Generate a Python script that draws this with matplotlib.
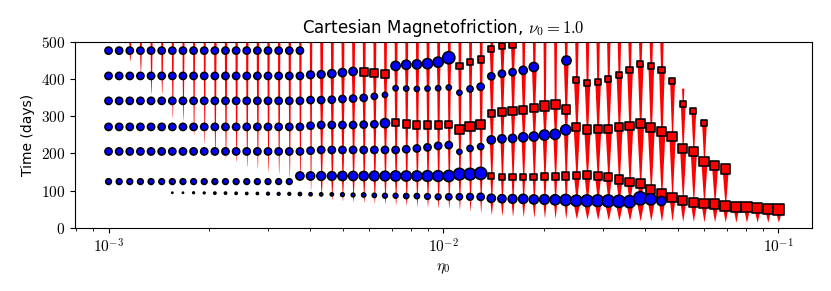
import numpy as np
import matplotlib
matplotlib.use("Agg")
import matplotlib.pyplot as plt
from matplotlib.ticker import FuncFormatter, LogLocator, NullFormatter

plt.rcParams['mathtext.fontset'] = 'cm'

# eta0 grid of the runs (64 log-spaced values, 1e-3 .. 1e-1)
eta0 = np.logspace(-3, -1, 64)

# eruption tracks: first run index, marker ('o' full eruption, 's' failed), times (days), marker size (px)
row1_i, row1_m = 0, 'o'
row1_t = [476, 476, 476, 476, 476, 476, 476, 476, 476, 476, 476, 476, 476, 476, 476, 476, 476, 476, 476]
row1_d = [8] * 19

row2a_i, row2a_m = 0, 'o'
row2a_t = [408, 408, 408, 408, 408, 408, 408, 408, 408, 408, 408, 408, 408, 408, 408, 408, 408, 408, 408,
           411, 412, 414, 417, 420]
row2a_d = [8] * 19 + [8.5, 8.5, 9, 9, 9]
row2b_i, row2b_m = 24, 's'
row2b_t = [418, 415, 413]
row2b_d = [9, 9, 9]
row2c_i, row2c_m = 27, 'o'
row2c_t = [435, 438, 439, 441, 445, 457]
row2c_d = [10, 10, 10, 11, 11, 13]
row2d_i, row2d_m = 33, 's'
row2d_t = [435, 445, 452, 480, 488, 491]
row2d_d = [7, 7, 7, 7, 7, 7]

row3a_i, row3a_m = 0, 'o'
row3a_t = [341, 341, 341, 341, 341, 341, 341, 341, 341, 341, 341, 341, 341, 341, 341, 341, 341, 341, 341,
           343, 343, 344, 346, 347, 349, 353, 357]
row3a_d = [8] * 25 + [7, 6]
row3b_i, row3b_m = 27, 'o'
row3b_t = [375, 374, 373, 374, 375, 377, 363, 373, 379, 407, 414, 418, 423, 432]
row3b_d = [6, 6, 6, 6, 6, 6, 6, 7, 8, 8, 8, 8, 9, 10]
row3c_i, row3c_m = 43, 'o'
row3c_t = [450]
row3c_d = [10]
row3d_i, row3d_m = 44, 's'
row3d_t = [397, 390, 392, 399, 410, 424, 440, 435, 424, 395, 332, 314, 281]
row3d_d = [7] * 13

row4a_i, row4a_m = 0, 'o'
row4a_t = [271, 271, 271, 271, 271, 271, 271, 271, 271, 271, 271, 271, 271, 271, 271, 271, 271, 271, 271,
           274, 276, 276, 276, 276, 277, 278, 281]
row4a_d = [8] * 26 + [10]
row4b_i, row4b_m = 27, 's'
row4b_t = [283, 279, 276, 276, 276, 278, 264, 271, 277, 307, 311, 314, 316, 322, 327, 332, 318]
row4b_d = [8, 8, 8, 8, 8, 8, 10, 10, 10, 8, 8, 9, 9, 9, 10, 10, 9]

row5a_i, row5a_m = 0, 'o'
row5a_t = [205, 205, 205, 205, 205, 205, 205, 205, 205, 205, 205, 205, 205, 205, 205, 205, 205, 205, 205,
           207, 209, 209, 209, 209, 209, 209, 209, 209, 211, 213, 216, 220, 222,
           204, 213, 218, 236, 239, 240, 243, 245, 249, 251, 263]
row5a_d = [8] * 33 + [6, 7, 7, 9, 9, 9, 10, 10, 11, 11, 11]
row5b_i, row5b_m = 44, 's'
row5b_t = [270, 264, 265, 266, 270, 273, 280, 269, 258, 245, 213, 204, 179, 168, 158]
row5b_d = [9, 9, 9, 9, 9, 9, 10, 10, 10, 10, 10, 10, 10, 10, 10]

row6a_i, row6a_m = 0, 'o'
row6a_t = [124, 124, 124, 124, 124, 124, 124, 124, 124, 124, 124, 124, 124, 124, 124, 124, 124, 124]
row6a_d = [6.5] * 18
row6b_i, row6b_m = 18, 'o'
row6b_t = [139, 139, 139, 139, 139, 139, 139, 139, 139, 139, 139, 139, 139, 139, 139, 144, 144, 146]
row6b_d = [9, 9, 9.5, 9.5, 10, 10, 10, 10.5, 10.5, 11, 11, 11, 11.5, 11.5, 12, 12.5, 12.5, 13]
row6c_i, row6c_m = 36, 's'
row6c_t = [139, 137, 136, 136, 136, 137, 138, 139, 140, 141, 139, 136, 129, 123, 119, 103, 92,
           81, 73, 67, 64.5, 63, 59, 56.5, 55, 52, 51, 50]
row6c_d = [7, 7, 7, 7, 7.5, 7.5, 8, 8, 8.5, 9, 9, 9, 9.5, 9.5, 10, 10, 10,
           10, 10, 10, 10, 10.5, 10.5, 10.5, 11, 11, 11, 12]

row7_i, row7_m = 6, 'o'
row7_t = [94, 94, 94, 93.5, 93, 93, 92.5, 92, 92, 91.5, 91, 91, 90.5, 90,
          89.6, 89.6, 89, 88, 88, 87, 86, 86, 85, 85, 84, 83, 83, 83, 83, 83,
          79, 78, 77.5, 77.5, 76, 76, 75,
          74.5, 72.6, 72.6, 72.6, 71.8, 71, 70, 79, 76.3, 71.8]
row7_d = [2, 2, 2.5, 2.5, 3, 3, 3, 3, 3, 3.5, 3.5, 3.5, 4, 4,
          4, 4, 4.5, 4.5, 5, 5, 5.5, 5.5, 6, 6, 6.5, 6.5, 7, 7, 7.5, 8,
          9, 9, 9.5, 10, 10, 10.5, 11,
          12, 12, 12.5, 12.5, 13, 13, 13, 14, 12, 10]

# red build-up profiles per run: start time of the trace, end of run, widths (px)
red_start = [505, 505, 449, 419, 361, 361, 297, 290, 249, 227, 200, 187, 177, 164, 160, 150,
             146, 137, 128, 101, 83, 75, 72, 70, 68, 66, 64, 62, 60, 58, 56, 54,
             52, 50, 45, 40, 35, 33, 31, 30, 28, 27, 26, 25, 24, 23, 22, 21,
             20, 20, 19, 19, 18, 18, 17, 17, 16, 16, 16, 15, 15, 15, 15, 15]
t_end = [600] * 53 + [400, 375, 316, 282, 168, 158, 56.5, 55, 52, 51, 50]
line_w = [0, 0] + [1.0] * 8 + [1.2] * 10 + [1.3] * 16 + [1.1] * 8 + [1.0] * 9 + [0.6] * 11
saw_frac = [0] * 20 + [0.12] * 16 + [0.28] * 8 + [0.55] * 20

tracks = [
    (row1_i, row1_m, row1_t, row1_d),
    (row2a_i, row2a_m, row2a_t, row2a_d), (row2b_i, row2b_m, row2b_t, row2b_d),
    (row2c_i, row2c_m, row2c_t, row2c_d), (row2d_i, row2d_m, row2d_t, row2d_d),
    (row3a_i, row3a_m, row3a_t, row3a_d), (row3b_i, row3b_m, row3b_t, row3b_d),
    (row3c_i, row3c_m, row3c_t, row3c_d), (row3d_i, row3d_m, row3d_t, row3d_d),
    (row4a_i, row4a_m, row4a_t, row4a_d), (row4b_i, row4b_m, row4b_t, row4b_d),
    (row5a_i, row5a_m, row5a_t, row5a_d), (row5b_i, row5b_m, row5b_t, row5b_d),
    (row6a_i, row6a_m, row6a_t, row6a_d), (row6b_i, row6b_m, row6b_t, row6b_d),
    (row6c_i, row6c_m, row6c_t, row6c_d),
    (row7_i, row7_m, row7_t, row7_d),
]

DPI = 100
fig = plt.figure(figsize=(8.31, 2.91), dpi=DPI)
ax = fig.add_axes([0.0903, 0.2175, 0.8867, 0.6392])
ax.set_xscale('log')
xmin, xmax = 10 ** -3.1, 10 ** -0.9
ax.set_xlim(xmin, xmax)
ax.set_ylim(0, 500)

# px -> decades along x
ax_w_px = ax.get_position().width * fig.get_figwidth() * DPI
dec_per_px = (np.log10(xmax) - np.log10(xmin)) / ax_w_px

# collect eruptions per run
events = [[] for _ in eta0]
for start, m, times, diam in tracks:
    for k, (t, d) in enumerate(zip(times, diam)):
        events[start + k].append((t, d))

top_px = 1.2
for i, x in enumerate(eta0):
    rs = red_start[i]
    te = min(t_end[i], 505)
    if te <= rs:
        continue
    ev = sorted(e for e in events[i] if e[0] > rs)
    bounds = [rs] + [e[0] for e in ev] + [te]
    for k in range(len(bounds) - 1):
        lo, hi = bounds[k], bounds[k + 1]
        if hi <= lo:
            continue
        t = np.linspace(lo, hi, 60)
        hw = line_w[i] * np.sqrt((t - rs) / (505 - rs))
        if k < len(ev):
            hw = hw + saw_frac[i] * ev[k][1] / 2 * (t - lo) / (hi - lo)
        else:
            span = (t_end[i] - lo) if t_end[i] < 505 else (500 - lo)
            hw = hw + saw_frac[i] * top_px * (t - lo) / max(span, 1)
        xl = x * 10 ** (-hw * dec_per_px)
        xr = x * 10 ** (hw * dec_per_px)
        ax.fill_betweenx(t, xl, xr, color='red', lw=0, zorder=1)

# eruption markers
edge_px = 1.6
for start, m, times, diam in tracks:
    xs = eta0[start:start + len(times)]
    d_pt = (np.array(diam) - edge_px / 2) * 72 / DPI
    ax.scatter(xs, times, s=d_pt ** 2, marker=m,
               c='blue' if m == 'o' else 'red',
               edgecolors='black', linewidths=edge_px * 72 / DPI, zorder=3)

ax.xaxis.set_major_locator(LogLocator(base=10))
ax.xaxis.set_major_formatter(FuncFormatter(lambda v, p: r'$10^{%d}$' % round(np.log10(v))))
ax.xaxis.set_minor_formatter(NullFormatter())
ax.set_yticks([0, 100, 200, 300, 400, 500])
ax.yaxis.set_major_formatter(FuncFormatter(lambda v, p: r'$%d$' % v))
ax.tick_params(labelsize=11)

ax.set_title(r'Cartesian Magnetofriction, $\nu_0 = 1.0$', fontsize=12)
ax.set_xlabel(r'$\eta_0$', fontsize=11)
ax.set_ylabel('Time (days)', fontsize=10)

fig.savefig('out.png', dpi=DPI)
